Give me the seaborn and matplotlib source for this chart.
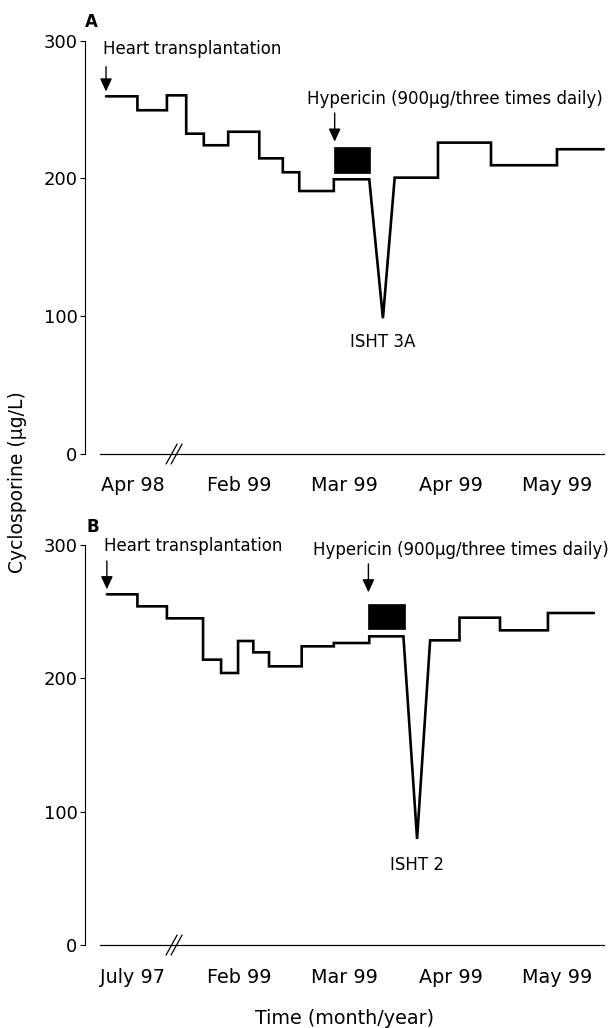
import matplotlib
matplotlib.use("Agg")
import matplotlib.pyplot as plt
import seaborn as sns
import pandas as pd
from matplotlib.patches import Rectangle

# ---------------- data ----------------
month_labels_a = ["Apr 98", "Feb 99", "Mar 99", "Apr 99", "May 99"]
month_labels_b = ["July 97", "Feb 99", "Mar 99", "Apr 99", "May 99"]
y_ticks = [0, 100, 200, 300]

# Panel A: step levels (start times) before the dip
a_step_t = [-0.252, 0.044, 0.322, 0.504, 0.670, 0.900, 1.193, 1.415, 1.570, 1.896, 2.230]
a_step_v = [259.5, 249.4, 260.2, 232.4, 224.0, 233.8, 214.5, 204.4, 190.8, 199.3]
a_dip_t, a_dip_v = 2.359, 98.5
a_post_t = [2.470, 2.878, 3.378, 4.000, 4.441]
a_post_v = [200.5, 225.9, 209.5, 221.1]
a_hyp_box = (1.896, 2.237, 204.0, 222.5)   # start, end, low, high

# Panel B
b_step_t = [-0.244, 0.044, 0.322, 0.663, 0.833, 0.993, 1.137, 1.285, 1.593, 1.896, 2.230, 2.552]
b_step_v = [263.0, 254.0, 245.0, 214.0, 204.0, 228.0, 219.5, 209.0, 224.0, 226.5, 231.5]
b_dip_t, b_dip_v = 2.681, 79.5
b_post_t = [2.804, 3.081, 3.463, 3.915, 4.348]
b_post_v = [228.5, 245.5, 236.0, 249.0]
b_hyp_box = (2.215, 2.563, 236.7, 256.0)

# ---------------- style ----------------
sns.set_style("ticks")
plt.rcParams["font.family"] = ["DejaVu Sans"]
plt.rcParams["axes.linewidth"] = 0.8
for key in ("text.color", "axes.labelcolor", "xtick.color", "ytick.color",
            "axes.edgecolor", "xtick.labelcolor", "ytick.labelcolor"):
    plt.rcParams[key] = "black"

W, H = 616, 1028
fig = plt.figure(figsize=(W / 100, H / 100), dpi=100)

XL = (-0.455, 4.453)
AX_LEFT, AX_RIGHT = 84.5, 605.0


def make_axes(y0_px, y300_px):
    return fig.add_axes([AX_LEFT / W, 1 - y0_px / H,
                         (AX_RIGHT - AX_LEFT) / W, (y0_px - y300_px) / H])


def build_path(t, v, dip_t, dip_v, pt, pv):
    xs, ys = [], []
    for i in range(len(v)):
        xs += [t[i], t[i + 1]]
        ys += [v[i], v[i]]
    xs.append(dip_t)
    ys.append(dip_v)
    for i in range(len(pv)):
        xs += [pt[i], pt[i + 1]]
        ys += [pv[i], pv[i]]
    return pd.DataFrame({"time": xs, "conc": ys, "order": range(len(xs))})


def draw_panel(ax, labels, t, v, dip_t, dip_v, pt, pv, box,
               heart_txt, heart_arrow, hyp_txt, hyp_arrow, isht_txt, isht_pos,
               label_pad, px_per_unit):
    df = build_path(t, v, dip_t, dip_v, pt, pv)
    sns.lineplot(data=df, x="time", y="conc", sort=False, estimator=None,
                 color="black", lw=1.9, ax=ax)
    for ln in ax.lines:
        ln.set_solid_joinstyle("miter")
        ln.set_clip_on(False)
    ax.set_xlim(*XL)
    ax.set_ylim(0, 300)
    ax.set_yticks(y_ticks)
    ax.set_yticklabels([str(v_) for v_ in y_ticks], fontsize=13, color="black")
    ax.tick_params(axis="y", length=3.6, width=0.8, pad=1.5, direction="out",
                   colors="black")
    ax.set_xticks(range(len(labels)))
    ax.set_xticklabels(labels, fontsize=13.8, color="black")
    ax.tick_params(axis="x", length=0, pad=label_pad)
    ax.set_xlabel("")
    ax.set_ylabel("")
    sns.despine(ax=ax, top=True, right=True, bottom=True)
    ax.spines["left"].set_color("black")

    # x axis line with break
    ax.plot([-0.307, 4.441], [0, 0], color="black", lw=0.9, clip_on=False)
    bx, hw, hh, off = 0.39, 0.052, 10 / px_per_unit, 0.047
    for dx in (-off / 2, off / 2):
        ax.plot([bx + dx - hw, bx + dx + hw], [-hh, hh], color="black",
                lw=0.9, clip_on=False)

    # hypericin box
    ax.add_patch(Rectangle((box[0], box[2]), box[1] - box[0], box[3] - box[2],
                           facecolor="black", edgecolor="black", lw=0.5))

    # arrows
    for (xa, ytop, ytip) in (heart_arrow, hyp_arrow):
        ax.annotate("", xy=(xa, ytip), xytext=(xa, ytop),
                    arrowprops=dict(arrowstyle="-|>,head_length=0.65,head_width=0.3",
                                    color="black", lw=1.0, mutation_scale=12,
                                    shrinkA=0, shrinkB=0),
                    annotation_clip=False)

    ax.text(heart_txt[0], heart_txt[1], "Heart transplantation", fontsize=12,
            ha="left", va="baseline", color="black")
    ax.text(hyp_txt[0], hyp_txt[1], "Hypericin (900µg/three times daily)",
            fontsize=12, ha="left", va="baseline", clip_on=False, color="black")
    ax.text(isht_pos[0], isht_pos[1], isht_txt, fontsize=12, ha="center",
            va="baseline", color="black")


axA = make_axes(454.0, 40.5)
draw_panel(axA, month_labels_a, a_step_t, a_step_v, a_dip_t, a_dip_v,
           a_post_t, a_post_v, a_hyp_box,
           (-0.282, 290.2), (-0.252, 281.0, 263.0),
           (1.644, 253.9), (1.904, 247.4, 226.6),
           "ISHT 3A", (2.354, 77.8), 15.8, 1.3783)

axB = make_axes(945.0, 545.0)
draw_panel(axB, month_labels_b, b_step_t, b_step_v, b_dip_t, b_dip_v,
           b_post_t, b_post_v, b_hyp_box,
           (-0.271, 295.7), (-0.244, 288.0, 266.8),
           (1.703, 292.5), (2.222, 285.8, 264.5),
           "ISHT 2", (2.681, 56.3), 16.8, 1.3333)

# panel letters
fig.text(85 / W, 1 - 27.3 / H, "A", fontsize=12, fontweight="bold",
         ha="left", va="baseline", color="black")
fig.text(86 / W, 1 - 532.3 / H, "B", fontsize=12, fontweight="bold",
         ha="left", va="baseline", color="black")

# shared axis labels
fig.text(18 / W, 1 - 482 / H, "Cyclosporine (µg/L)", fontsize=13.5,
         rotation=90, ha="center", va="center", color="black")
fig.text(345 / W, 1 - 1024 / H, "Time (month/year)", fontsize=13.8,
         ha="center", va="baseline", color="black")

fig.savefig("out.png", dpi=100)
